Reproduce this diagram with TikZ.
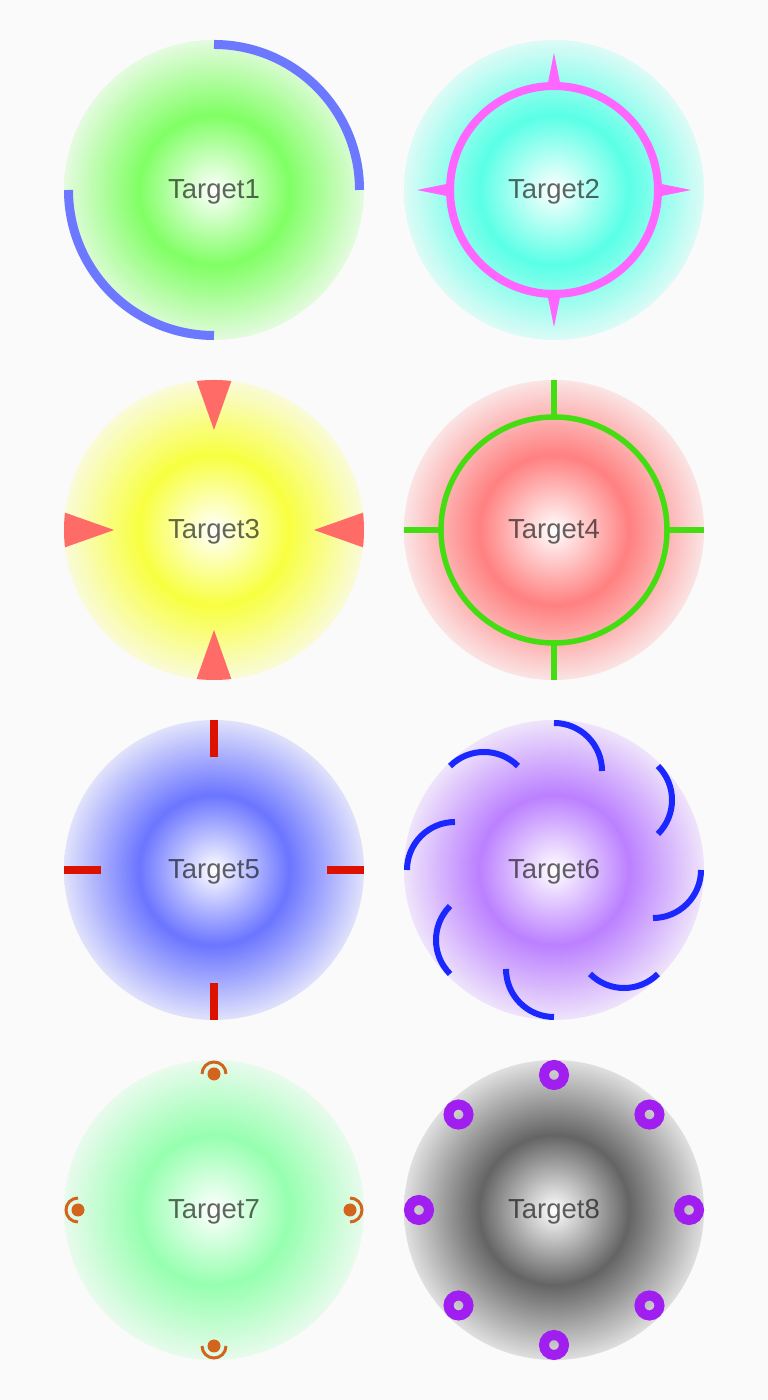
\documentclass[tikz,border=0pt]{standalone}
\usepackage{fontspec}
\setmainfont{Liberation Sans}
\definecolor{bgc}{RGB}{250,250,250}
\definecolor{g1}{RGB}{128,255,100}
\definecolor{g2}{RGB}{90,255,230}
\definecolor{g3}{RGB}{248,255,64}
\definecolor{g4}{RGB}{255,128,128}
\definecolor{g5}{RGB}{107,117,255}
\definecolor{g6}{RGB}{187,128,255}
\definecolor{g7}{RGB}{150,255,175}
\definecolor{g8}{RGB}{100,100,100}
\definecolor{arcblue}{RGB}{107,120,255}
\definecolor{magent}{RGB}{255,102,255}
\definecolor{salmon}{RGB}{255,107,102}
\definecolor{lime}{RGB}{68,221,17}
\definecolor{tickred}{RGB}{221,17,0}
\definecolor{deepblue}{RGB}{26,40,255}
\definecolor{orng}{RGB}{210,100,30}
\definecolor{violet}{RGB}{160,30,240}
\newcommand\mkshade[2]{\pgfdeclareradialshading{#1}{\pgfpointorigin}{color(0bp)=(white);color(12.5bp)=(#2);color(25bp)=(#2!18!bgc);color(50bp)=(#2!18!bgc)}}
\mkshade{sha}{g1}
\mkshade{shb}{g2}
\mkshade{shc}{g3}
\mkshade{shd}{g4}
\mkshade{she}{g5}
\mkshade{shf}{g6}
\mkshade{shg}{g7}
\mkshade{shh}{g8}
\tikzset{
  lbl/.style={anchor=base, font=\fontsize{27.5}{32}\selectfont, text=black, text opacity=0.6, inner sep=0pt},
}
\begin{document}
\begin{tikzpicture}[x=1pt,y=1pt]
\fill[bgc] (0,0) rectangle (768,1400);
\useasboundingbox (0,0) rectangle (768,1400);
% Target1
\begin{scope}[shift={(214,1210)}]
  \shade[shading=sha] (0,0) circle (150);
  \draw[arcblue, line width=9] (0,145.5) arc[start angle=90, end angle=0, radius=145.5];
  \draw[arcblue, line width=9] (-145.5,0) arc[start angle=180, end angle=270, radius=145.5];
  \node[lbl] (t1) at (0,-9) {Target1};
\end{scope}
% Target2
\begin{scope}[shift={(554,1210)}]
  \shade[shading=shb] (0,0) circle (150);
  \draw[magent, line width=8] (0,0) circle (104);
  \foreach \a in {0,90,180,270}
    \fill[magent, rotate=\a] (137,0) -- (100,7.5) -- (100,-7.5) -- cycle;
  \node[lbl] (t2) at (0,-9) {Target2};
\end{scope}
% Target3
\begin{scope}[shift={(214,870)}]
  \shade[shading=shc] (0,0) circle (150);
  \begin{scope}
    \clip (0,0) circle (150);
    \foreach \a in {0,90,180,270}
      \fill[salmon, rotate=\a] (100,0) -- (160,21.25) -- (160,-21.25) -- cycle;
  \end{scope}
  \node[lbl] (t3) at (0,-9) {Target3};
\end{scope}
% Target4
\begin{scope}[shift={(554,870)}]
  \shade[shading=shd] (0,0) circle (150);
  \draw[lime, line width=5.5] (0,0) circle (113);
  \foreach \a in {0,90,180,270}
    \draw[lime, line width=6, rotate=\a] (113,0) -- (150,0);
  \node[lbl] (t4) at (0,-9) {Target4};
\end{scope}
% Target5
\begin{scope}[shift={(214,530)}]
  \shade[shading=she] (0,0) circle (150);
  \foreach \a in {0,90,180,270}
    \draw[tickred, line width=8, rotate=\a] (113,0) -- (150,0);
  \node[lbl] (t5) at (0,-9) {Target5};
\end{scope}
% Target6
\begin{scope}[shift={(554,530)}]
  \shade[shading=shf] (0,0) circle (150);
  \foreach \a in {90,45,0,-45,-90,-135,-180,-225}
    \draw[deepblue, line width=6] (\a:99) ++(\a:48) arc[start angle=\a, end angle=\a-90, radius=48];
  \node[lbl] (t6) at (0,-9) {Target6};
\end{scope}
% Target7
\begin{scope}[shift={(214,190)}]
  \shade[shading=shg] (0,0) circle (150);
  \foreach \a in {0,90,180,270} {
    \fill[orng] (\a:136) circle (6.5);
    \draw[orng, line width=3] (\a:136) ++({\a-90}:12) arc[start angle=\a-90, end angle=\a+90, radius=12];
  }
  \node[lbl] (t7) at (0,-9) {Target7};
\end{scope}
% Target8
\begin{scope}[shift={(554,190)}]
  \shade[shading=shh] (0,0) circle (150);
  \foreach \a in {0,45,...,315}
    \draw[violet, line width=10] (\a:135) circle (10);
  \node[lbl] (t8) at (0,-9) {Target8};
\end{scope}
\end{tikzpicture}
\end{document}
